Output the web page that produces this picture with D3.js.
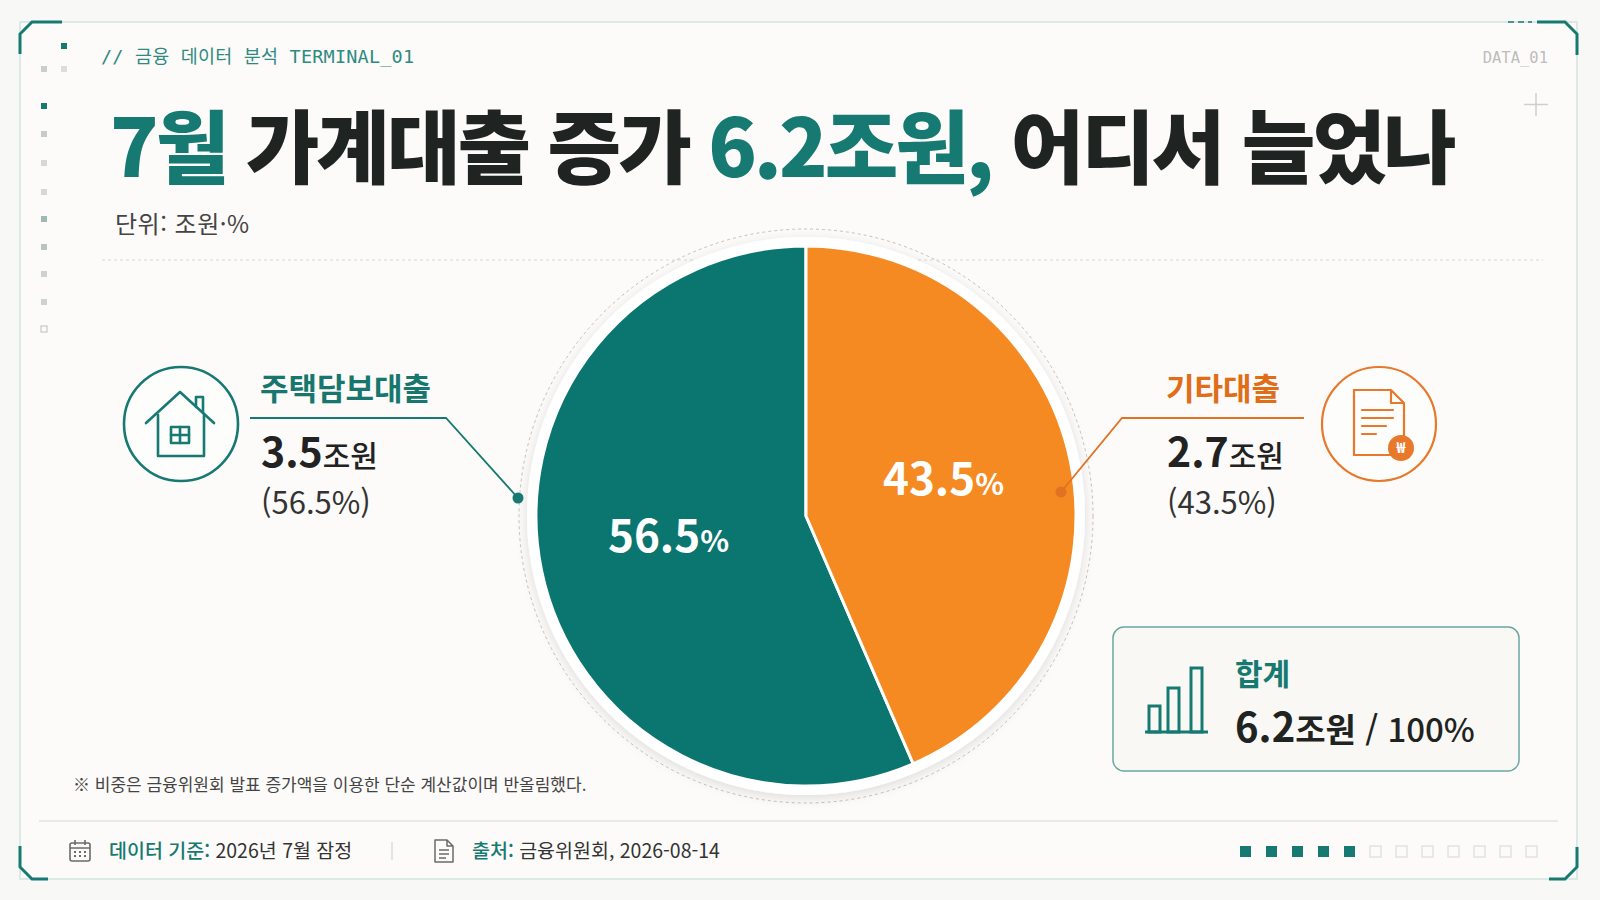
<!DOCTYPE html>
<html lang="ko">
<head>
<meta charset="UTF-8">
<title>7월 가계대출 증가</title>
<style>
  html, body { margin: 0; padding: 0; background: #f8f8f6; }
  svg { display: block; }
  text { font-family: "Noto Sans CJK KR", "Noto Sans", sans-serif; }
  .mono { font-family: "DejaVu Sans Mono", "Noto Sans CJK KR", monospace; }
</style>
</head>
<body>
<svg></svg>
<script src="https://d3js.org/d3.v7.min.js"></script>
<script>
// 데이터
const categories = ["주택담보대출", "기타대출"];
const amounts = [3.5, 2.7];        // 조원
const shares = [56.5, 43.5];       // %
const totalAmount = 6.2;
const totalShare = 100;
const colors = ["#0b7570", "#f68a22"];
const labelColors = ["#17776f", "#e06d17"];

const width = 1600, height = 900;
const teal = "#167a72";

const svg = d3.select("svg").attr("width", width).attr("height", height);
const defs = svg.append("defs");
const shadow = defs.append("filter").attr("id", "shadow")
    .attr("x", "-20%").attr("y", "-20%").attr("width", "140%").attr("height", "140%");
shadow.append("feDropShadow").attr("dx", 0).attr("dy", 3).attr("stdDeviation", 6)
    .attr("flood-color", "#000").attr("flood-opacity", 0.12);

// 배경 / 프레임
svg.append("rect").attr("x", 20).attr("y", 22).attr("width", 1557).attr("height", 857)
    .attr("fill", "#fcfbf9").attr("stroke", "#c9dedb").attr("stroke-width", 1.2);

const corners = [
  "M20,54 V34 L32,22 H62",
  "M1537,22 H1565 L1577,34 V55",
  "M1577,847 V867 L1565,879 H1549",
  "M20,846 V867 L32,879 H48"
];
svg.append("g").selectAll("path").data(corners).join("path")
    .attr("d", d => d).attr("fill", "none").attr("stroke", teal).attr("stroke-width", 3);

svg.append("line").attr("x1", 1508).attr("x2", 1532).attr("y1", 22).attr("y2", 22)
    .attr("stroke", teal).attr("stroke-width", 1.5).attr("stroke-dasharray", "6,4");

// 왼쪽 장식 점
const dots = [
  {x: 64, y: 46, c: teal}, {x: 44, y: 69, c: "#c9cfcd"}, {x: 64, y: 69, c: "#dcdcdc"},
  {x: 44, y: 106, c: teal}, {x: 44, y: 134, c: "#c5cccb"}, {x: 44, y: 163, c: "#d5d8d7"},
  {x: 44, y: 192, c: "#d5d8d7"}, {x: 44, y: 219, c: "#9fb9b5"}, {x: 44, y: 247, c: "#b8c4c2"},
  {x: 44, y: 274, c: "#cdd2d1"}, {x: 44, y: 302, c: "#cdd2d1"}
];
svg.append("g").selectAll("rect").data(dots).join("rect")
    .attr("x", d => d.x - 3).attr("y", d => d.y - 3).attr("width", 6).attr("height", 6)
    .attr("fill", d => d.c);
svg.append("rect").attr("x", 41).attr("y", 326).attr("width", 6).attr("height", 6)
    .attr("fill", "none").attr("stroke", "#c8c8c8").attr("stroke-width", 1.2);

// 상단 텍스트
svg.append("text").attr("class", "mono").attr("x", 101).attr("y", 63)
    .attr("font-size", 18.5).attr("fill", "#2f8a82").attr("letter-spacing", 0.2)
    .text("// 금융 데이터 분석 TERMINAL_01");
svg.append("text").attr("class", "mono").attr("x", 1548).attr("y", 63)
    .attr("text-anchor", "end").attr("font-size", 15.5).attr("fill", "#bdbdbd")
    .text("DATA_01");
svg.append("path").attr("d", "M1536,93 V116 M1524,104.5 H1548")
    .attr("stroke", "#cfcfcf").attr("stroke-width", 1.5);

const title = svg.append("text").attr("x", 110).attr("y", 177)
    .attr("font-size", 80).attr("font-weight", 900).attr("letter-spacing", -3)
    .attr("fill", "#1f2322");
title.append("tspan").attr("fill", teal).text("7월");
title.append("tspan").text(" 가계대출 증가 ");
title.append("tspan").attr("fill", teal).text(`${totalAmount}조원,`);
title.append("tspan").text(" 어디서 늘었나");

svg.append("text").attr("x", 115).attr("y", 233).attr("font-size", 24)
    .attr("letter-spacing", 0.5).attr("fill", "#444").text("단위: 조원·%");

svg.append("line").attr("x1", 102).attr("x2", 1543).attr("y1", 260).attr("y2", 260)
    .attr("stroke", "#d8d8d8").attr("stroke-dasharray", "3,3");

// 파이
const cx = 806, cy = 516, r = 270;
const g = svg.append("g").attr("transform", `translate(${cx},${cy})`);

g.append("circle").attr("r", 287).attr("fill", "none")
    .attr("stroke", "#c2c2c2").attr("stroke-dasharray", "3,3");
g.append("circle").attr("r", 279).attr("fill", "#fff").attr("filter", "url(#shadow)");

const start = -2 * Math.PI * shares[0] / 100;
const pie = d3.pie().sort(null).value(d => d.share)
    .startAngle(start).endAngle(start + 2 * Math.PI);
const rows = categories.map((c, i) => ({name: c, amount: amounts[i], share: shares[i], i}));
const arcs = pie(rows);
const arc = d3.arc().innerRadius(0).outerRadius(r);
const labelArc = d3.arc().innerRadius(r * 0.52).outerRadius(r * 0.52);

g.selectAll("path.slice").data(arcs).join("path").attr("class", "slice")
    .attr("d", arc).attr("fill", d => colors[d.data.i])
    .attr("stroke", "#fff").attr("stroke-width", 3).attr("stroke-linejoin", "round");

const pl = g.selectAll("text.pl").data(arcs).join("text").attr("class", "pl")
    .attr("transform", d => `translate(${labelArc.centroid(d)})`)
    .attr("text-anchor", "middle").attr("dy", "0.45em").attr("fill", "#fff")
    .attr("font-weight", 700);
pl.append("tspan").attr("font-size", 44).text(d => d.data.share.toFixed(1));
pl.append("tspan").attr("font-size", 30).text("%");

// 리더선
const leaders = [
  {pts: [[250, 418], [446, 418], [518, 498]], dot: [518, 498], c: teal},
  {pts: [[1304, 418], [1122, 418], [1061, 492]], dot: [1061, 492], c: "#e07224"}
];
leaders.forEach(l => {
  svg.append("path").attr("d", d3.line()(l.pts)).attr("fill", "none")
      .attr("stroke", l.c).attr("stroke-width", 1.8);
  svg.append("circle").attr("cx", l.dot[0]).attr("cy", l.dot[1]).attr("r", 5.5)
      .attr("fill", l.c);
});

// 주석 텍스트
const ann = [{x: 260, i: 0}, {x: 1166, i: 1}];
ann.forEach(a => {
  svg.append("text").attr("x", a.x).attr("y", 400).attr("font-size", 31)
      .attr("font-weight", 700).attr("fill", labelColors[a.i]).text(categories[a.i]);
  const v = svg.append("text").attr("x", a.x + 1).attr("y", 467).attr("fill", "#222");
  v.append("tspan").attr("font-size", 41).attr("font-weight", 700).text(amounts[a.i].toFixed(1));
  v.append("tspan").attr("font-size", 30).attr("font-weight", 500).text("조원");
  svg.append("text").attr("x", a.x + 1).attr("y", 514).attr("font-size", 31)
      .attr("fill", "#333").text(`(${shares[a.i].toFixed(1)}%)`);
});

// 집 아이콘
const house = svg.append("g").attr("fill", "none").attr("stroke", teal)
    .attr("stroke-width", 2.6).attr("stroke-linejoin", "round").attr("stroke-linecap", "round");
house.append("circle").attr("cx", 181).attr("cy", 424).attr("r", 57).attr("fill", "#fdfdfb");
house.append("path").attr("d", "M146,423 L180,392 L214,423");
house.append("path").attr("d", "M196,407 V397 H203 V413");
house.append("path").attr("d", "M158,415 V456 H204 V415");
house.append("rect").attr("x", 171).attr("y", 427).attr("width", 18).attr("height", 16);
house.append("path").attr("d", "M180,427 V443 M171,435 H189");

// 문서 아이콘
const orange = "#e8782a";
const doc = svg.append("g").attr("fill", "none").attr("stroke", orange)
    .attr("stroke-width", 2.2).attr("stroke-linejoin", "round").attr("stroke-linecap", "round");
doc.append("circle").attr("cx", 1379).attr("cy", 424).attr("r", 57).attr("fill", "#fdfdfb");
doc.append("path").attr("d", "M1354,390 H1391 L1404,403 V438 M1394,455 H1354 Z M1391,390 V403 H1404");
doc.append("path").attr("d", "M1354,390 V455");
doc.append("path").attr("d", "M1362,410 H1393 M1362,418 H1393 M1362,426 H1386 M1362,434 H1376");
svg.append("circle").attr("cx", 1401).attr("cy", 448).attr("r", 13).attr("fill", orange);
svg.append("text").attr("x", 1401).attr("y", 448).attr("dy", "0.36em").attr("text-anchor", "middle")
    .attr("font-size", 15).attr("font-weight", 700).attr("fill", "#fff").text("₩");

// 합계 박스
svg.append("rect").attr("x", 1113).attr("y", 627).attr("width", 406).attr("height", 144)
    .attr("rx", 11).attr("fill", "#faf8f4").attr("stroke", "#6aa7a1").attr("stroke-width", 1.5);
const barIcon = svg.append("g").attr("fill", "none").attr("stroke", teal).attr("stroke-width", 3);
[[1149, 706], [1168, 688], [1191, 668]].forEach(([x, y]) => {
  barIcon.append("rect").attr("x", x).attr("y", y).attr("width", 11).attr("height", 732 - y);
});
barIcon.append("line").attr("x1", 1145).attr("x2", 1208).attr("y1", 732).attr("y2", 732);
svg.append("text").attr("x", 1235).attr("y", 685).attr("font-size", 30)
    .attr("font-weight", 700).attr("fill", teal).text("합계");
const tot = svg.append("text").attr("x", 1235).attr("y", 742).attr("fill", "#1f2322");
tot.append("tspan").attr("font-size", 40).attr("font-weight", 700).text(totalAmount.toFixed(1));
tot.append("tspan").attr("font-size", 33).attr("font-weight", 700).text("조원");
tot.append("tspan").attr("font-size", 33).attr("font-weight", 500).text(` / ${totalShare}%`);

// 각주
svg.append("text").attr("x", 73).attr("y", 791).attr("font-size", 17).attr("fill", "#444")
    .text("※ 비중은 금융위원회 발표 증가액을 이용한 단순 계산값이며 반올림했다.");

svg.append("line").attr("x1", 39).attr("x2", 1558).attr("y1", 821).attr("y2", 821)
    .attr("stroke", "#e3e3e3").attr("stroke-width", 1.5);

// 푸터
const cal = svg.append("g").attr("fill", "none").attr("stroke", "#6b6b6b").attr("stroke-width", 1.6);
cal.append("rect").attr("x", 70).attr("y", 843).attr("width", 20).attr("height", 18).attr("rx", 2);
cal.append("path").attr("d", "M70,848 H90 M75,840 V845 M85,840 V845");
const calDots = [];
[852, 856].forEach(y => [75, 80, 85].forEach(x => calDots.push([x, y])));
svg.append("g").selectAll("rect").data(calDots).join("rect")
    .attr("x", d => d[0] - 1).attr("y", d => d[1] - 1).attr("width", 2).attr("height", 2).attr("fill", "#6b6b6b");

const f1 = svg.append("text").attr("x", 109).attr("y", 858).attr("font-size", 19.5);
f1.append("tspan").attr("fill", teal).attr("font-weight", 500).text("데이터 기준:");
f1.append("tspan").attr("fill", "#333").text(" 2026년 7월 잠정");
svg.append("line").attr("x1", 392).attr("x2", 392).attr("y1", 842).attr("y2", 860)
    .attr("stroke", "#d5d5d5").attr("stroke-width", 1.2);

const fdoc = svg.append("g").attr("fill", "none").attr("stroke", "#6b6b6b").attr("stroke-width", 1.5)
    .attr("stroke-linejoin", "round");
fdoc.append("path").attr("d", "M435,840 H447 L453,846 V862 H435 Z M447,840 V846 H453");
fdoc.append("path").attr("d", "M439,850 H449 M439,854 H449 M439,858 H446");
const f2 = svg.append("text").attr("x", 472).attr("y", 858).attr("font-size", 19.5);
f2.append("tspan").attr("fill", teal).attr("font-weight", 500).text("출처:");
f2.append("tspan").attr("fill", "#333").text(" 금융위원회, 2026-08-14");

const squares = d3.range(12);
svg.append("g").selectAll("rect").data(squares).join("rect")
    .attr("x", i => 1240 + i * 26).attr("y", 846).attr("width", 11).attr("height", 11)
    .attr("fill", i => i < 5 ? teal : "none")
    .attr("stroke", i => i < 5 ? "none" : "#dcdcdc").attr("stroke-width", 1.2);
</script>
</body>
</html>
